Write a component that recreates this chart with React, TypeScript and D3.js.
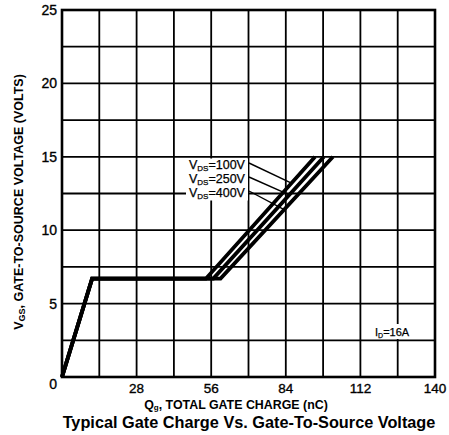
import React from "react";
import * as d3 from "d3";

const xTicks = [0, 28, 56, 84, 112, 140];
const yTicks = [0, 5, 10, 15, 20, 25];
const xGrid = [0, 14, 28, 42, 56, 70, 84, 98, 112, 126, 140];
const yGrid = [0, 2.5, 5, 7.5, 10, 12.5, 15, 17.5, 20, 22.5, 25];

const vgs = [0, 6.7, 6.7, 15];
const qg100 = [0, 11.3, 54, 95];
const qg250 = [0, 11.3, 56.8, 98.3];
const qg400 = [0, 11.3, 59.5, 101.7];
const seriesLabels = ["100V", "250V", "400V"];
const leaderV = [13.2, 12.4, 11.4];

export default function App() {
  const W = 449, H = 435;
  const x = d3.scaleLinear().domain([0, 140]).range([62, 435]);
  const y = d3.scaleLinear().domain([0, 25]).range([377, 10]);
  const series = [qg100, qg250, qg400];
  const line = d3.line<[number, number]>().x(d => x(d[0])).y(d => y(d[1]));
  const font = "'Liberation Sans', Arial, Helvetica, sans-serif";

  const qAt = (qs: number[], v: number) => {
    const t = (v - vgs[2]) / (vgs[3] - vgs[2]);
    return qs[2] + t * (qs[3] - qs[2]);
  };
  const labelY = [165, 179, 193];

  return (
    <svg width={W} height={H} style={{ position: "absolute", left: 0, top: 0, background: "#fff" }} fontFamily={font}>
      <rect x={0} y={0} width={W} height={H} fill="#fff" />
      {xGrid.map(q => (
        <line key={"xg" + q} x1={x(q)} x2={x(q)} y1={y(0)} y2={y(25)} stroke="#000" strokeWidth={1.8} />
      ))}
      {yGrid.map(v => (
        <line key={"yg" + v} x1={x(0)} x2={x(140)} y1={y(v)} y2={y(v)} stroke="#000" strokeWidth={1.8} />
      ))}
      <rect x={x(0)} y={y(25)} width={x(140) - x(0)} height={y(0) - y(25)} fill="none" stroke="#000" strokeWidth={2.6} />

      <rect x={186} y={158.5} width={62} height={42} fill="#fff" />
      <rect x={372} y={324} width={44} height={15} fill="#fff" />

      {series.map((qs, i) => (
        <path key={"s" + i} d={line(qs.map((q, j) => [q, vgs[j]] as [number, number])) || ""} fill="none" stroke="#000" strokeWidth={3.8} strokeLinejoin="miter" />
      ))}

      {series.map((qs, i) => (
        <line key={"ld" + i} x1={249} y1={labelY[i] - 2} x2={x(qAt(qs, leaderV[i]))} y2={y(leaderV[i])} stroke="#000" strokeWidth={1.4} />
      ))}
      {seriesLabels.map((s, i) => (
        <text key={"lb" + i} x={189} y={labelY[i] + 4} fontSize={12.5} fill="#000" stroke="#000" strokeWidth={0.25}>
          V<tspan fontSize={8} dy={2}>DS</tspan><tspan dy={-2}>{"=" + s}</tspan>
        </text>
      ))}

      <text x={375} y={336} fontSize={11} fill="#000" stroke="#000" strokeWidth={0.25}>
        I<tspan fontSize={7} dy={2}>D</tspan><tspan dy={-2}>=16A</tspan>
      </text>

      {yTicks.map(v => (
        <text key={"yt" + v} x={57} y={y(v) + (v === 0 ? 12 : 5)} textAnchor="end" fontSize={14} fill="#000" stroke="#000" strokeWidth={0.35}>{v}</text>
      ))}
      {xTicks.filter(q => q > 0).map(q => (
        <text key={"xt" + q} x={x(q)} y={393} textAnchor="middle" fontSize={13.5} fill="#000" stroke="#000" strokeWidth={0.35}>{q}</text>
      ))}

      <text x={236} y={408.5} textAnchor="middle" fontSize={12.4} fontWeight="bold" fill="#000">
        Q<tspan fontSize={8} dy={1.5}>g</tspan><tspan dy={-1.5}>, TOTAL GATE CHARGE (nC)</tspan>
      </text>
      <text x={249} y={428} textAnchor="middle" fontSize={16.3} fontWeight="bold" fill="#000">
        Typical Gate Charge Vs. Gate-To-Source Voltage
      </text>
      <text transform="translate(23,202) rotate(-90)" textAnchor="middle" fontSize={12.5} fontWeight="bold" fill="#000">
        V<tspan fontSize={9} dy={2}>GS</tspan><tspan dy={-2}>, GATE-TO-SOURCE VOLTAGE (VOLTS)</tspan>
      </text>
    </svg>
  );
}
